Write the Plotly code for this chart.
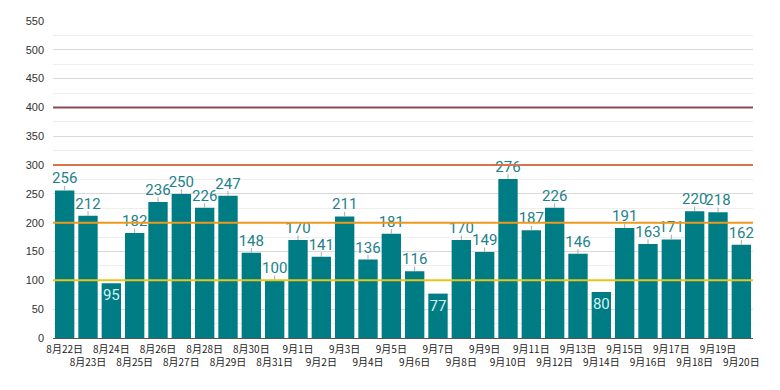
import plotly.graph_objects as go

dates = ["8月22日", "8月23日", "8月24日", "8月25日", "8月26日", "8月27日", "8月28日", "8月29日",
         "8月30日", "8月31日", "9月1日", "9月2日", "9月3日", "9月4日", "9月5日", "9月6日",
         "9月7日", "9月8日", "9月9日", "9月10日", "9月11日", "9月12日", "9月13日", "9月14日",
         "9月15日", "9月16日", "9月17日", "9月18日", "9月19日", "9月20日"]
values = [256, 212, 95, 182, 236, 250, 226, 247, 148, 100, 170, 141, 211, 136, 181, 116,
          77, 170, 149, 276, 187, 226, 146, 80, 191, 163, 171, 220, 218, 162]
ref_levels = [100, 200, 300, 400]
ref_colors = ["#e8c51c", "#ec9a1e", "#d8734e", "#8a4a55"]

bar_color = "#007c84"
inside = [v < 100 for v in values]
textpos = ["inside" if i else "outside" for i in inside]
textcol = ["#d6f2f2" if i else "#23818a" for i in inside]
leader = [0 if i else 8 for i in inside]

ticktext = [d if k % 2 == 0 else "<br>" + d for k, d in enumerate(dates)]

fig = go.Figure()
fig.add_trace(go.Bar(
    x=dates, y=values, marker_color=bar_color, marker_line_width=0,
    text=[str(v) for v in values], textposition=textpos,
    insidetextanchor="end", constraintext="none",
    textfont=dict(family="Roboto", size=15, color=textcol),
    cliponaxis=False,
    error_y=dict(type="data", symmetric=False, array=leader,
                 arrayminus=[0] * len(values), color="#aaaaaa", thickness=1, width=0),
))

for lv, c in zip(ref_levels, ref_colors):
    fig.add_shape(type="line", xref="paper", x0=0, x1=1, yref="y", y0=lv, y1=lv,
                  line=dict(color=c, width=2), layer="above")

fig.update_layout(
    width=780, height=390,
    margin=dict(l=45, r=35, t=13, b=60, autoexpand=False),
    paper_bgcolor="white", plot_bgcolor="white",
    bargap=0.17, showlegend=False,
    font=dict(family="Noto Sans CJK JP", color="#333333"),
    xaxis=dict(type="category", tickmode="array", tickvals=dates, ticktext=ticktext,
               tickangle=0, automargin=False, ticklabelstandoff=2,
               tickfont=dict(size=10, color="#222222"), showgrid=False,
               showline=True, linecolor="#555555", linewidth=1, ticks="",
               range=[-0.5, len(dates) - 0.5]),
    yaxis=dict(range=[0, 550], dtick=50, automargin=False,
               tickfont=dict(family="Liberation Sans", size=11, color="#333333"),
               showgrid=True, gridcolor="#d9d9d9", gridwidth=1, zeroline=False,
               minor=dict(dtick=25, showgrid=True, gridcolor="#eeeeee", gridwidth=1),
               ticks="", ticklabelstandoff=8),
)

fig.write_html("out.html")
